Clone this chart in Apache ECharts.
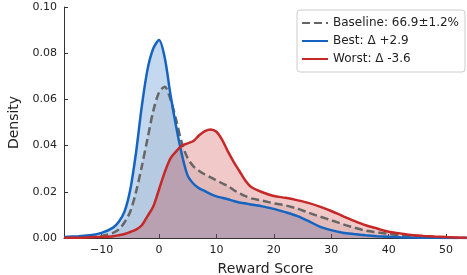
<!DOCTYPE html>
<html>
<head>
<meta charset="utf-8">
<script src="https://cdn.jsdelivr.net/npm/echarts@6/dist/echarts.min.js"></script>
<style>
  html, body { margin: 0; padding: 0; background: #fff; }
  #chart { width: 467px; height: 275px; }
</style>
</head>
<body>
<div id="chart"></div>
<script>
// 横轴取样点（Reward Score）
var scores = [-16.5, -14, -12, -10, -8, -7, -6, -5, -4, -3, -2, -1, 0, 1, 2, 3, 4, 5, 6, 7, 8, 9, 10,
  11, 12, 13, 14, 15, 16, 18, 20, 22, 24, 26, 28, 30, 32, 34, 36, 38, 40, 42, 44, 46, 48, 50, 53.6];

var baseline = [0.0002, 0.0003, 0.0005, 0.0009, 0.0022, 0.0037, 0.0068, 0.0115, 0.020, 0.031, 0.043, 0.055,
  0.063, 0.0655, 0.060, 0.051, 0.041, 0.0345, 0.031, 0.029, 0.0275, 0.0262, 0.0250,
  0.0237, 0.0225, 0.0208, 0.0193, 0.0182, 0.0172, 0.0162, 0.0150, 0.0141, 0.0128, 0.0110, 0.0093,
  0.0077, 0.0060, 0.0045, 0.0032, 0.0024, 0.0018, 0.0011, 0.0007, 0.0004, 0.0002, 0.0001, 0.0];

var best = [0.0004, 0.0008, 0.0012, 0.0022, 0.0045, 0.0070, 0.0115, 0.021, 0.037, 0.057, 0.073, 0.082,
  0.0857, 0.078, 0.062, 0.048, 0.036, 0.027, 0.0235, 0.0215, 0.0203, 0.0190, 0.0180,
  0.0174, 0.0168, 0.0160, 0.0154, 0.0150, 0.0145, 0.0137, 0.0126, 0.0112, 0.0096, 0.0074, 0.0049,
  0.0034, 0.0023, 0.0017, 0.0012, 0.0008, 0.0005, 0.0003, 0.0002, 0.0001, 0.0001, 0.0, 0.0];

var worst = [0.0001, 0.0001, 0.0003, 0.0005, 0.0008, 0.0012, 0.0017, 0.0026, 0.0036, 0.0055, 0.0095, 0.0136,
  0.021, 0.0285, 0.0345, 0.0375, 0.0400, 0.0410, 0.0420, 0.0445, 0.0463, 0.0470, 0.0460,
  0.0425, 0.0375, 0.0330, 0.0290, 0.0250, 0.0222, 0.0198, 0.0182, 0.0174, 0.0164, 0.0152, 0.0136,
  0.0117, 0.0095, 0.0074, 0.0055, 0.0041, 0.0027, 0.0020, 0.0013, 0.0009, 0.0006, 0.0004, 0.0001];

var xTicks = [-10, 0, 10, 20, 30, 40, 50];
var seriesNames = ['Baseline: 66.9\u00b11.2%', 'Best: \u0394 +2.9', 'Worst: \u0394 -3.6'];

function pairs(ys) {
  return scores.map(function (x, i) { return [x, ys[i]]; });
}

var font = 'DejaVu Sans';
var myChart = echarts.init(document.getElementById('chart'));

myChart.setOption({
  animation: false,
  textStyle: { fontFamily: font },
  grid: { left: 64, right: 0, top: 7, bottom: 37, outerBoundsMode: 'none' },
  legend: {
    orient: 'vertical',
    right: 2,
    top: 10,
    itemWidth: 26,
    itemHeight: 12,
    itemGap: 6,
    padding: [7, 6, 7, 4],
    backgroundColor: '#fff',
    borderColor: '#ccc',
    borderWidth: 1,
    borderRadius: 3,
    itemStyle: { opacity: 0 },
    textStyle: { fontFamily: font, fontSize: 12, color: '#222' },
    data: seriesNames
  },
  xAxis: {
    type: 'value',
    min: -16.55,
    max: 53.65,
    name: 'Reward Score',
    nameLocation: 'middle',
    nameGap: 24,
    nameTextStyle: { fontFamily: font, fontSize: 14, color: '#222' },
    splitLine: { show: false },
    axisLine: { onZero: false, lineStyle: { color: '#333', width: 1 } },
    axisTick: { inside: true, length: 4, lineStyle: { color: '#333' }, customValues: xTicks },
    axisLabel: {
      customValues: xTicks,
      margin: 7,
      fontSize: 11,
      color: '#222',
      formatter: function (v) { return v < 0 ? '\u2212' + Math.abs(v) : String(v); }
    }
  },
  yAxis: {
    type: 'value',
    min: 0,
    max: 0.1,
    interval: 0.02,
    name: 'Density',
    nameLocation: 'middle',
    nameGap: 35,
    nameTextStyle: { fontFamily: font, fontSize: 14, color: '#222' },
    splitLine: { show: false },
    axisLine: { show: true, onZero: false, lineStyle: { color: '#333', width: 1 } },
    axisTick: { show: true, inside: true, length: 4, lineStyle: { color: '#333' } },
    axisLabel: {
      margin: 7,
      fontSize: 11,
      color: '#222',
      formatter: function (v) { return v.toFixed(2); }
    }
  },
  series: [
    {
      name: seriesNames[0],
      type: 'line',
      data: pairs(baseline),
      smooth: 0.3,
      symbol: 'none',
      color: '#666666',
      lineStyle: { color: '#666666', width: 2.5, type: [8, 4] },
      areaStyle: { color: '#666666', opacity: 0.12 }
    },
    {
      name: seriesNames[1],
      type: 'line',
      data: pairs(best),
      smooth: 0.3,
      symbol: 'none',
      color: '#1565c0',
      lineStyle: { color: '#1565c0', width: 2.5 },
      areaStyle: { color: '#1565c0', opacity: 0.25 }
    },
    {
      name: seriesNames[2],
      type: 'line',
      data: pairs(worst),
      smooth: 0.3,
      symbol: 'none',
      color: '#c62828',
      lineStyle: { color: '#c62828', width: 2.5 },
      areaStyle: { color: '#c62828', opacity: 0.25 }
    }
  ]
});
</script>
</body>
</html>
